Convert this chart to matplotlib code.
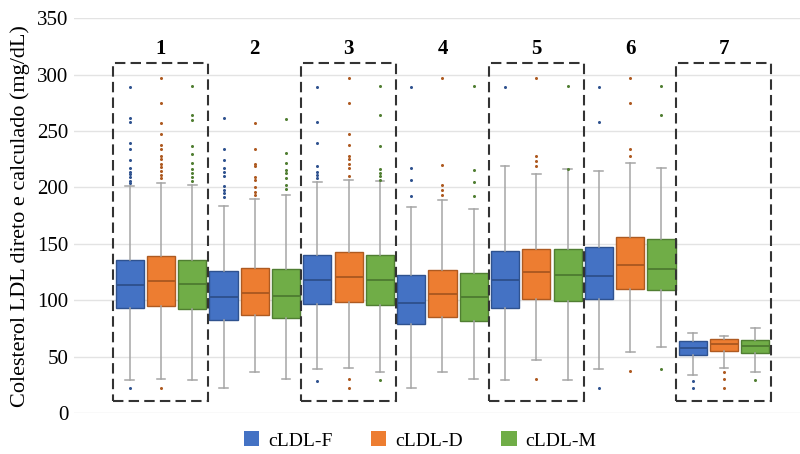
import matplotlib.pyplot as plt
from matplotlib.patches import Patch, Rectangle

# grupos e séries
groups = ["1", "2", "3", "4", "5", "6", "7"]
series = ["cLDL-F", "cLDL-D", "cLDL-M"]
boxed_groups = ["1", "3", "5", "7"]

# estatísticas (mg/dL), uma entrada por grupo
f_q1 = [92.8, 82.7, 97.0, 78.9, 93.0, 101.0, 51.6]
f_med = [113.6, 102.6, 118.3, 97.6, 117.7, 121.6, 57.5]
f_q3 = [136.0, 125.7, 139.7, 122.5, 143.5, 147.4, 63.5]
f_lo = [29.0, 22.0, 39.0, 22.0, 29.4, 38.9, 33.8]
f_hi = [201.0, 183.6, 205.0, 182.7, 218.6, 214.4, 70.9]
f_out = [
    [22, 289, 262, 258, 239, 234, 224, 217, 214, 212, 209, 206, 204],
    [262, 234, 224, 217, 214, 210, 201, 198, 195, 191.6],
    [28.7, 289, 258, 239, 218.6, 213.8, 211, 208],
    [289, 217, 207, 192.5],
    [289],
    [22, 289, 258],
    [28.7, 22],
]

d_q1 = [94.6, 86.6, 98.8, 84.8, 101.0, 110.0, 55.2]
d_med = [117.0, 106.5, 120.7, 105.6, 125.0, 131.0, 61.4]
d_q3 = [138.8, 128.7, 142.6, 127.0, 145.6, 156.0, 65.6]
d_lo = [30.0, 36.8, 40.3, 36.8, 47.0, 54.5, 40.3]
d_hi = [204.0, 190.0, 207.0, 189.0, 211.7, 221.5, 68.5]
d_out = [
    [22, 297, 275, 257, 247, 238, 234, 228, 225, 221, 218, 215, 211, 208],
    [257, 234, 220.6, 218.6, 209.7, 206.7, 200, 196, 193.3],
    [30, 22, 297, 275, 247, 238, 228, 225, 221, 217, 210],
    [297, 220, 202, 197.8, 193.3],
    [30, 297, 228, 223.8, 219],
    [37, 297, 275, 234, 227.5],
    [36.8, 30, 22],
]

m_q1 = [92.0, 84.0, 96.0, 81.9, 99.6, 108.8, 53.0]
m_med = [114.0, 103.5, 118.0, 102.6, 122.8, 127.8, 59.0]
m_q3 = [136.0, 127.8, 140.0, 124.0, 145.6, 154.5, 65.0]
m_lo = [29.0, 30.0, 36.8, 30.0, 29.4, 58.4, 36.8]
m_hi = [202.0, 193.6, 205.8, 181.0, 216.0, 217.4, 75.4]
m_out = [
    [290, 264, 260, 237, 230, 222, 216, 213, 209, 206],
    [260.7, 230.4, 222, 215.6, 213, 208, 202, 199],
    [29.4, 290, 264, 237, 216.8, 213, 210, 207],
    [290, 215.6, 205, 192.5],
    [290, 216],
    [38.9, 290, 264],
    [29.4],
]

fill_colors = ["#4472C4", "#ED7D31", "#70AD47"]
edge_colors = ["#2F528F", "#AE5A21", "#507E32"]

plt.rcParams["font.family"] = ["Liberation Serif", "DejaVu Serif"]

fig = plt.figure(figsize=(8, 4.54), dpi=100)
ax = fig.add_axes([0.0925, 0.0903, 0.9075, 0.8694])

all_stats = [
    (f_q1, f_med, f_q3, f_lo, f_hi, f_out),
    (d_q1, d_med, d_q3, d_lo, d_hi, d_out),
    (m_q1, m_med, m_q3, m_lo, m_hi, m_out),
]

n_ser = len(series)
for s, (q1, med, q3, lo, hi, out) in enumerate(all_stats):
    stats = []
    for g in range(len(groups)):
        stats.append({
            "q1": q1[g], "med": med[g], "q3": q3[g],
            "whislo": lo[g], "whishi": hi[g], "fliers": out[g],
        })
    positions = [g * n_ser + s for g in range(len(groups))]
    ax.bxp(
        stats,
        positions=positions,
        widths=0.9,
        capwidths=0.28,
        patch_artist=True,
        showfliers=True,
        boxprops=dict(facecolor=fill_colors[s], edgecolor=edge_colors[s], linewidth=1.0),
        medianprops=dict(color=edge_colors[s], linewidth=1.4),
        whiskerprops=dict(color="#A5A5A5", linewidth=1.1),
        capprops=dict(color="#A5A5A5", linewidth=1.1),
        flierprops=dict(marker="o", markersize=2.2, markerfacecolor=edge_colors[s],
                        markeredgecolor="none"),
        manage_ticks=False,
    )

# retângulos tracejados e rótulos dos grupos
for g, name in enumerate(groups):
    x0 = g * n_ser - 0.52
    if name in boxed_groups:
        ax.add_patch(Rectangle((x0, 10.5), 3.03, 299.5, fill=False, edgecolor="#333333",
                               linewidth=1.5, linestyle=(0, (5, 2.5)), zorder=5))
    ax.text(g * n_ser + 1, 323, name, ha="center", va="center",
            fontsize=15, fontweight="bold")

ax.set_xlim(-1.78, 21.43)
ax.set_ylim(0, 350)
ax.set_yticks(range(0, 351, 50))
ax.set_xticks([])
ax.tick_params(axis="y", length=0, labelsize=15, pad=4)
ax.grid(axis="y", color="#E3E3E3", linewidth=1.0)
ax.set_axisbelow(True)
for sp in ax.spines.values():
    sp.set_visible(False)
ax.set_ylabel("Colesterol LDL direto e calculado (mg/dL)", fontsize=16, labelpad=5)

handles = [Patch(facecolor=c, edgecolor="none") for c in fill_colors]
fig.legend(handles, series, loc="center", bbox_to_anchor=(0.525, 0.03), ncol=3,
           frameon=False, fontsize=14, handlelength=0.82, handleheight=0.82,
           columnspacing=1.95, handletextpad=0.45)

fig.savefig("out.png", dpi=100)
